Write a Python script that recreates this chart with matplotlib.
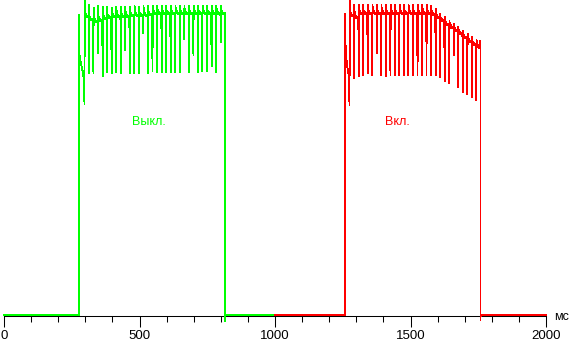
import matplotlib.pyplot as plt
from matplotlib.ticker import MultipleLocator

plt.rcParams['path.simplify'] = False

# levels in arbitrary units (0 = axis, ~316 = top of the frame)
BASE = 1

# "Выкл." trace (green)
green_rise_t = 277
green_rise_top = 301
green_lead_t = [279, 285, 290, 294]
green_lead = [259, 251, 245, 238]
green_dip_t = [297, 313, 330, 347, 364, 380, 397, 414, 431, 447, 464, 481, 498, 514, 531, 548,
               565, 582, 598, 615, 632, 649, 665, 682, 699, 716, 732, 749, 766, 783, 800]
green_dip = [212, 243, 243, 263, 240, 244, 243, 244, 243, 266, 243, 243, 243, 283, 243, 245,
             244, 244, 244, 244, 244, 244, 277, 244, 261, 244, 245, 245, 250, 244, 274]
green_top = [315, 311, 308, 310, 309, 309, 308, 309, 309, 309, 309, 310, 309, 310, 310, 310,
             310, 310, 310, 310, 310, 310, 310, 310, 310, 310, 310, 310, 310, 310, 310]
green_plat = [300, 297, 295, 296, 298, 299, 300, 300, 300, 300, 301, 301, 301, 301, 302, 303,
              303, 303, 303, 303, 303, 303, 303, 303, 303, 303, 303, 303, 303, 303, 303]
green_end_t = 814
green_end = 303
green_fall = -5

# "Вкл." trace (red)
red_rise_t = 1257.5
red_rise_top = 302
red_lead_t = [1259, 1264, 1267, 1271]
red_lead = [276, 256, 249, 242]
red_dip_t = [1275, 1292, 1309, 1325, 1342, 1359, 1375, 1392, 1409, 1426, 1442, 1459, 1476, 1492,
             1509, 1526, 1543, 1559, 1576, 1593, 1609, 1626, 1643, 1660, 1676, 1693, 1710, 1727, 1743]
red_dip = [211, 238, 240, 241, 243, 241, 263, 241, 240, 241, 241, 241, 241, 241,
           241, 241, 241, 241, 241, 241, 239, 235, 233, 261, 229, 224, 222, 219, 216]
red_top = [316, 311, 311, 311, 311, 311, 311, 311, 311, 311, 311, 311, 311, 311,
           311, 311, 311, 311, 310, 307, 302, 299, 295, 292, 289, 285, 282, 279, 276]
red_plat = [301, 299, 303, 303, 303, 303, 303, 303, 303, 303, 303, 303, 303, 303,
            303, 303, 303, 303, 302, 299, 296, 292, 289, 286, 283, 279, 275, 272, 269]
red_end_t = 1758
red_end = 275
red_fall = -4

# shape of one refresh period after each dip: (ms after dip, offset from plateau)
period_shape = [(2.5, 0), (5, 2), (8, -1), (12, 0), (15.5, -1)]


def build(t_from, t_to, rise_t, rise_top, lead_t, lead, dip_t, dip, top, plat, end_t, end, fall):
    ts = [t_from, rise_t, rise_t]
    ys = [BASE, BASE, rise_top]
    ts += lead_t
    ys += lead
    for t, d, tp, p in zip(dip_t, dip, top, plat):
        ts += [t, t + 0.8]
        ys += [d, tp]
        for dt, off in period_shape:
            if t + dt < end_t:
                ts.append(t + dt)
                ys.append(p + off)
    ts += [end_t, end_t, end_t + 1, t_to]
    ys += [end, fall, BASE, BASE]
    return ts, ys


fig = plt.figure(figsize=(5.69, 3.42), dpi=100)
ax = fig.add_axes([4 / 569, 26 / 342, 542 / 569, 316 / 342])

gx, gy = build(0, 1000, green_rise_t, green_rise_top, green_lead_t, green_lead,
               green_dip_t, green_dip, green_top, green_plat, green_end_t, green_end, green_fall)
rx, ry = build(1000, 2000, red_rise_t, red_rise_top, red_lead_t, red_lead,
               red_dip_t, red_dip, red_top, red_plat, red_end_t, red_end, red_fall)

ax.plot(gx, gy, color='#00ff00', lw=0.6, antialiased=False, clip_on=False)
ax.plot(rx, ry, color='#ff0000', lw=0.6, antialiased=False, clip_on=False)

ax.text(535, 194, 'Выкл.', color='#00ff00', fontsize=9, ha='center', va='center',
        family='Liberation Sans')
ax.text(1450, 194, 'Вкл.', color='#ff0000', fontsize=9, ha='center', va='center',
        family='Liberation Sans')

ax.set_xlim(0, 2000)
ax.set_ylim(0, 316)
for s in ['top', 'left', 'right']:
    ax.spines[s].set_visible(False)
ax.spines['bottom'].set_linewidth(0.75)
ax.spines['bottom'].set_zorder(1)
ax.set_yticks([])
ax.xaxis.set_major_locator(MultipleLocator(500))
ax.xaxis.set_minor_locator(MultipleLocator(100))
ax.tick_params(axis='x', which='major', length=8, width=0.75, pad=2, labelsize=9.5)
ax.tick_params(axis='x', which='minor', length=4.5, width=0.75)
for lab in ax.get_xticklabels():
    lab.set_family('Liberation Sans')

fig.text(554 / 569, 1 - 320 / 342, 'мс', fontsize=9, ha='left', va='baseline',
         family='Liberation Sans')

fig.savefig('out.png', dpi=100)
